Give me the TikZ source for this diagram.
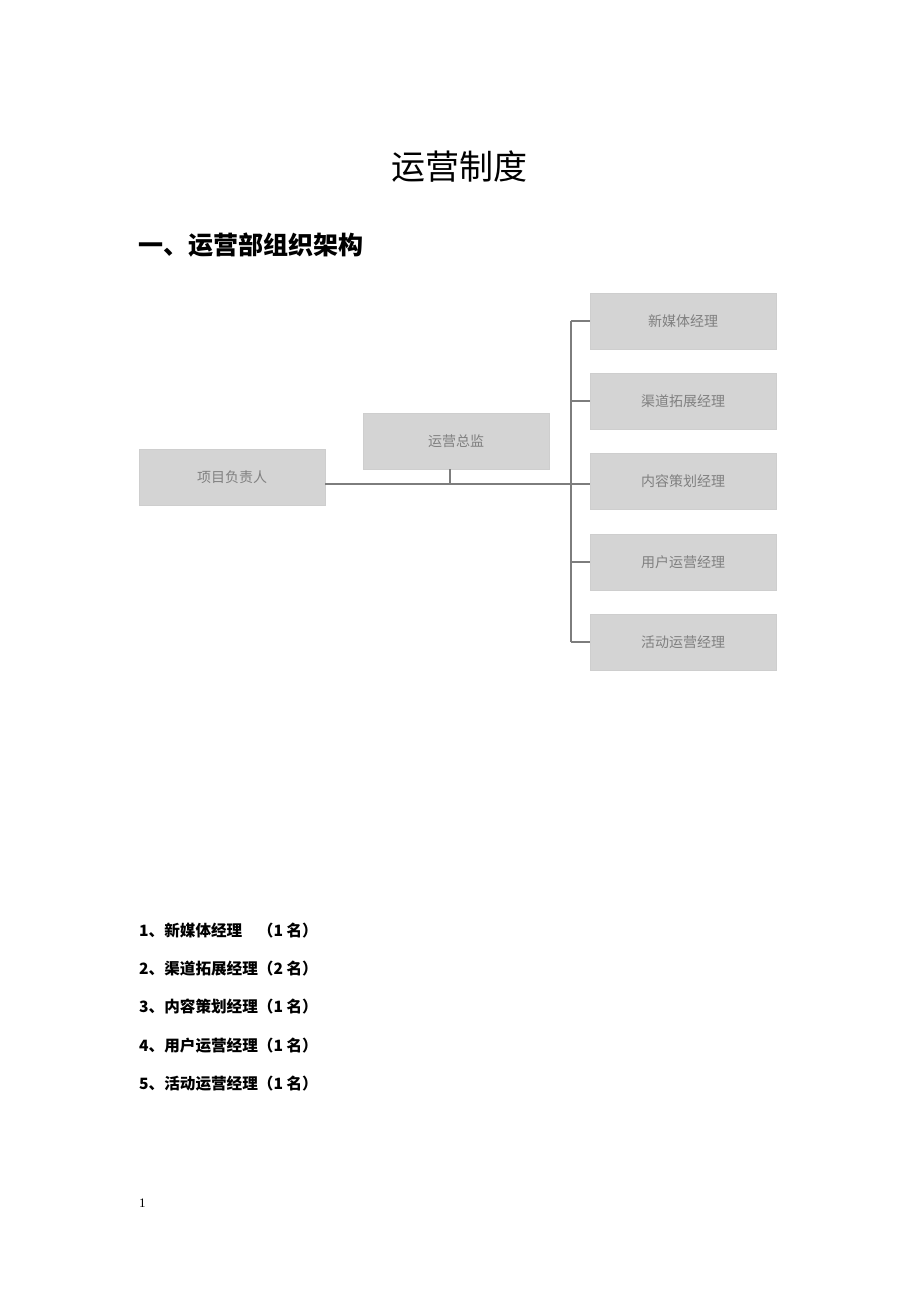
\documentclass[tikz,border=0pt]{standalone}
\usepackage{fontspec}
\newfontfamily\cjk{Noto Sans CJK SC}
\newfontfamily\serifnum{Liberation Serif}
\definecolor{boxgray}{RGB}{212,212,212}
\definecolor{boxedge}{RGB}{206,206,206}
\definecolor{boxtext}{RGB}{128,128,128}
\definecolor{linegray}{RGB}{125,125,125}
\begin{document}
\begin{tikzpicture}[x=1pt,y=-1pt,
  orgbox/.style={fill=boxgray,draw=boxedge,line width=0.5pt,minimum width=186pt,minimum height=56pt,inner sep=0pt,text=boxtext,font=\cjk\fontsize{14}{17}\selectfont},
  conn/.style={draw=linegray,line width=1.4pt},
  listitem/.style={anchor=west,inner sep=0pt,font=\cjk\bfseries\fontsize{15.6}{18}\selectfont}]
\path[fill=white] (0,0) rectangle (920,1302);
\useasboundingbox (0,0) rectangle (920,1302);
% titles
\node[inner sep=0pt,font=\cjk\fontsize{34}{40}\selectfont] (title) at (459,167) {运营制度};
\node[anchor=west,inner sep=0pt,font=\cjk\bfseries\fontsize{25}{30}\selectfont] (head) at (138,245) {一、运营部组织架构};
% boxes
\node[orgbox] (root) at (232,477) {项目负责人};
\node[orgbox] (dir) at (456,441) {运营总监};
\node[orgbox] (m1) at (683,321) {新媒体经理};
\node[orgbox] (m2) at (683,401) {渠道拓展经理};
\node[orgbox] (m3) at (683,481) {内容策划经理};
\node[orgbox] (m4) at (683,562) {用户运营经理};
\node[orgbox] (m5) at (683,642) {活动运营经理};
\coordinate (j) at (450,484);
\coordinate (t) at (571,484);
% connectors
\draw[conn] (root.east |- j) -- (j) -- (t) -- (m3.west |- j);
\draw[conn] (dir.south -| j) -- (j);
\draw[conn] (t |- m1.west) -- (t |- m5.west);
\draw[conn] (t |- m1.west) -- (m1.west);
\draw[conn] (t |- m2.west) -- (m2.west);
\draw[conn] (t |- m4.west) -- (m4.west);
\draw[conn] (t |- m5.west) -- (m5.west);
% list
\node[listitem] (l1) at (139,931) {1、新媒体经理\hspace{15.6pt}（1 名）};
\node[listitem] (l2) at (139,969) {2、渠道拓展经理（2 名）};
\node[listitem] (l3) at (139,1007) {3、内容策划经理（1 名）};
\node[listitem] (l4) at (139,1046) {4、用户运营经理（1 名）};
\node[listitem] (l5) at (139,1084) {5、活动运营经理（1 名）};
% page number
\node[anchor=west,inner sep=0pt,font=\serifnum\fontsize{13}{15}\selectfont] (pg) at (139,1203) {1};
\end{tikzpicture}
\end{document}
